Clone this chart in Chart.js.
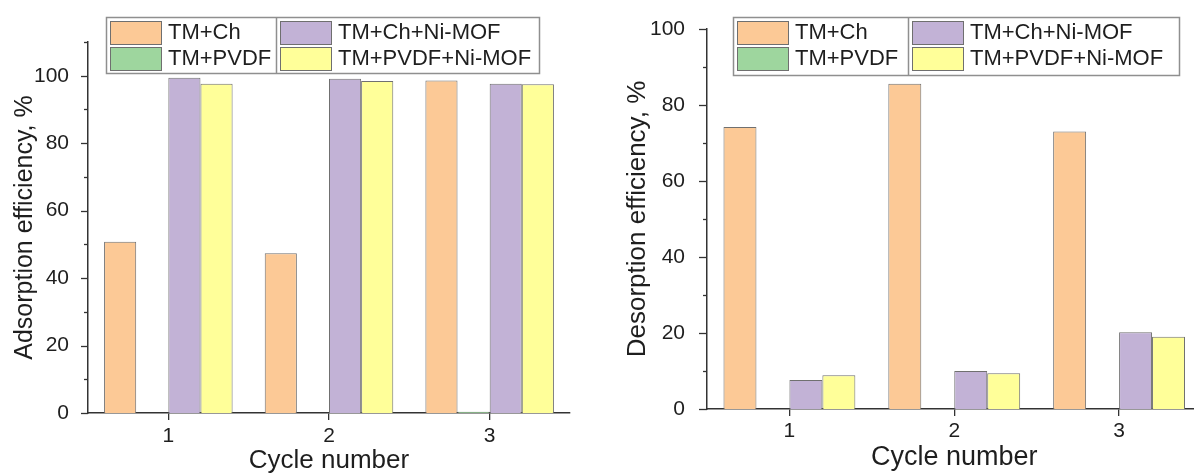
<!DOCTYPE html>
<html>
<head>
<meta charset="utf-8">
<script src="https://cdn.jsdelivr.net/npm/chart.js@4"></script>
<style>
html, body { margin: 0; padding: 0; overflow: hidden; background: #fff; width: 1194px; height: 474px; }
#chartA { position: absolute; left: 0; top: 0; }
#chartB { position: absolute; left: 600px; top: 0; }
</style>
</head>
<body>
<canvas id="chartA" width="600" height="474"></canvas>
<canvas id="chartB" width="640" height="474"></canvas>
<script>
// data
var cycles = ['1', '2', '3']
var seriesNames = ['TM+Ch', 'TM+PVDF', 'TM+Ch+Ni-MOF', 'TM+PVDF+Ni-MOF']
var seriesColors = ['#fcc996', '#9ed69e', '#c2b2d6', '#ffff99']

var adsTmCh = [50.8, 47.4, 98.6]
var adsTmPvdf = [0, 0, 0.4]
var adsTmChMof = [99.4, 99.1, 97.6]
var adsTmPvdfMof = [97.6, 98.4, 97.5]

var desTmCh = [74.2, 85.6, 73.0]
var desTmPvdf = [0, 0, 0]
var desTmChMof = [7.6, 10.0, 20.2]
var desTmPvdfMof = [8.9, 9.4, 19.0]

var fontName = '"Liberation Sans", Arial, sans-serif'
var axisColor = '#333'
var textColor = '#1e1e1e'

// minor / major ticks on the y axis (outside, like Origin)
var yTickMarks = {
	id: 'yTickMarks',
	afterDraw: function(chart, args, opts) {
		var ctx = chart.ctx
		var y = chart.scales.y
		ctx.save()
		ctx.strokeStyle = axisColor
		ctx.lineWidth = 1.3
		y.ticks.forEach(function(t) {
			var py = Math.round(y.getPixelForValue(t.value)) + 0.5
			var len = (t.value % 20 === 0) ? opts.major : opts.minor
			ctx.beginPath()
			ctx.moveTo(y.right - len, py)
			ctx.lineTo(y.right, py)
			ctx.stroke()
		})
		ctx.restore()
	}
}

// two column boxed legend
var boxLegend = {
	id: 'boxLegend',
	afterDraw: function(chart, args, o) {
		var ctx = chart.ctx
		ctx.save()
		ctx.fillStyle = '#fff'
		ctx.fillRect(o.x, o.y, o.w, o.h)
		ctx.strokeStyle = '#8f8f8f'
		ctx.lineWidth = 1.5
		ctx.strokeRect(o.x + 0.5, o.y + 0.5, o.w, o.h)
		ctx.beginPath()
		ctx.moveTo(o.split + 0.5, o.y)
		ctx.lineTo(o.split + 0.5, o.y + o.h)
		ctx.stroke()
		ctx.font = '22px ' + fontName
		ctx.textBaseline = 'middle'
		chart.data.datasets.forEach(function(ds, i) {
			var col = Math.floor(i / 2)
			var row = i % 2
			var sx = (col === 0 ? o.x : o.split) + 4
			var sy = o.y + 4 + row * 26
			ctx.fillStyle = ds.backgroundColor
			ctx.fillRect(sx, sy, 51, 23)
			ctx.strokeStyle = '#6f6f6f'
			ctx.lineWidth = 1
			ctx.strokeRect(sx + 0.5, sy + 0.5, 51, 23)
			ctx.fillStyle = textColor
			ctx.fillText(ds.label, sx + 58, sy + 12)
		})
		ctx.restore()
	}
}

function makeDatasets(values) {
	var sets = []
	for (var i = 0; i < values.length; i++) {
		sets.push({
			label: seriesNames[i],
			data: values[i],
			backgroundColor: seriesColors[i],
			borderColor: '#707070',
			borderWidth: 1,
			borderSkipped: 'start',
			barPercentage: 1,
			categoryPercentage: 0.8
		})
	}
	return sets
}

function makeChart(el, values, cfg) {
	return new Chart(document.getElementById(el), {
		type: 'bar',
		data: {
			labels: cycles,
			datasets: makeDatasets(values)
		},
		options: {
			responsive: false,
			animation: false,
			layout: { padding: cfg.padding },
			plugins: {
				legend: { display: false },
				tooltip: { enabled: false },
				yTickMarks: { major: cfg.major, minor: 4 },
				boxLegend: cfg.legend
			},
			scales: {
				x: {
					offset: true,
					grid: { display: true, drawOnChartArea: false, offset: false, tickLength: 7, color: axisColor, lineWidth: 1.3 },
					border: { display: true, color: axisColor, width: 1.5 },
					ticks: { color: textColor, font: { family: fontName, size: 21 }, padding: cfg.xPad },
					title: {
						display: true,
						text: 'Cycle number',
						color: textColor,
						font: { family: fontName, size: cfg.xTitleSize, lineHeight: 1 },
						padding: { top: 0, bottom: cfg.xTitlePad }
					},
					afterFit: function(scale) { scale.height = cfg.xHeight }
				},
				y: {
					min: 0,
					max: cfg.yMax,
					grid: { display: false },
					border: { display: true, color: axisColor, width: 1.5 },
					ticks: {
						stepSize: 10,
						maxTicksLimit: 20,
						color: textColor,
						font: { family: fontName, size: 21 },
						padding: cfg.yPad,
						callback: function(v) { return v % 20 === 0 ? v : '' }
					},
					title: {
						display: true,
						text: cfg.yTitle,
						color: textColor,
						font: { family: fontName, size: cfg.yTitleSize, lineHeight: 1.2 },
						padding: { top: cfg.yTitlePad, bottom: 0 }
					},
					afterFit: function(scale) { scale.width = cfg.yWidth }
				}
			}
		},
		plugins: [yTickMarks, boxLegend]
	})
}

var chartA = makeChart('chartA', [adsTmCh, adsTmPvdf, adsTmChMof, adsTmPvdfMof], {
	padding: { left: 0, right: 30, top: 42, bottom: 0 },
	yMax: 110,
	yWidth: 88,
	xHeight: 61,
	yPad: 11,
	xPad: 4,
	major: 7,
	yTitle: 'Adsorption efficiency, %',
	yTitleSize: 25,
	yTitlePad: 10,
	xTitleSize: 26,
	xTitlePad: 0,
	legend: { x: 106, y: 17, w: 433, h: 56, split: 276 }
})

var chartB = makeChart('chartB', [desTmCh, desTmPvdf, desTmChMof, desTmPvdfMof], {
	padding: { left: 0, right: 38.5, top: 29, bottom: 0 },
	yMax: 100,
	yWidth: 107,
	xHeight: 65,
	yPad: 14,
	xPad: 3,
	major: 8,
	yTitle: 'Desorption efficiency, %',
	yTitleSize: 26,
	yTitlePad: 22,
	xTitleSize: 27,
	xTitlePad: 3,
	legend: { x: 133, y: 17, w: 446, h: 58, split: 308 }
})
</script>
</body>
</html>
